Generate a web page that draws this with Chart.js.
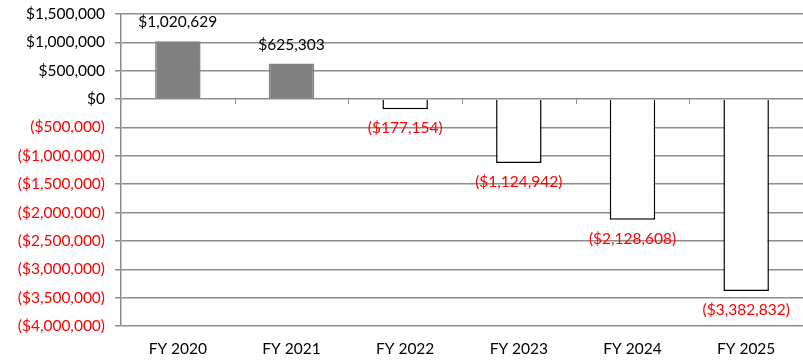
<!DOCTYPE html>
<html>
<head>
<meta charset="utf-8">
<script src="https://cdn.jsdelivr.net/npm/chart.js@4"></script>
<style>
  html, body { margin: 0; padding: 0; background: #fff; }
  #wrap { width: 803px; height: 360px; }
</style>
</head>
<body>
<div id="wrap"><canvas id="chart"></canvas></div>
<script>
// chart data
const years = ["FY 2020", "FY 2021", "FY 2022", "FY 2023", "FY 2024", "FY 2025"];
const balances = [1020629, 625303, -177154, -1124942, -2128608, -3382832];
const yMin = -4000000;
const yMax = 1500000;
const yStep = 500000;

const GRID = "#8c8c8c";
const FONT = "Lato, 'Open Sans', sans-serif";
const FSIZE = 15.5;

function money(v) {
  const s = "$" + Math.abs(v).toLocaleString("en-US");
  return v < 0 ? "(" + s + ")" : s;
}

// value labels above / below the bars, plus the small ticks on the zero line
const barLabels = {
  id: "barLabels",
  afterDatasetsDraw(chart) {
    const ctx = chart.ctx;
    const meta = chart.getDatasetMeta(0);
    const x = chart.scales.x;
    const y = chart.scales.y;
    const zero = y.getPixelForValue(0);
    ctx.save();
    ctx.strokeStyle = GRID;
    ctx.lineWidth = 1;
    for (let i = 1; i < years.length; i++) {
      const px = Math.round(x.left + (x.width / years.length) * i) + 0.5;
      ctx.beginPath();
      ctx.moveTo(px, zero);
      ctx.lineTo(px, zero + 5);
      ctx.stroke();
    }
    ctx.font = FSIZE + "px " + FONT;
    ctx.textAlign = "center";
    ctx.textBaseline = "middle";
    meta.data.forEach((bar, i) => {
      const v = balances[i];
      ctx.fillStyle = v < 0 ? "#ff0000" : "#000000";
      const ty = v < 0 ? bar.y + 19 : bar.y - 19;
      ctx.fillText(money(v), bar.x, ty);
    });
    ctx.restore();
  }
};

new Chart(document.getElementById("chart"), {
  type: "bar",
  data: {
    labels: years,
    datasets: [{
      data: balances,
      backgroundColor: balances.map(v => v < 0 ? "#ffffff" : "#808080"),
      borderColor: balances.map(v => v < 0 ? "#000000" : "#808080"),
      borderWidth: 1.5,
      categoryPercentage: 1,
      barPercentage: 0.4
    }]
  },
  options: {
    responsive: true,
    maintainAspectRatio: false,
    animation: false,
    layout: { padding: { top: 14, right: 0, bottom: 0, left: 0 } },
    plugins: {
      legend: { display: false },
      tooltip: { enabled: false }
    },
    scales: {
      x: {
        grid: { display: false },
        border: { display: false },
        ticks: { color: "#000", font: { family: FONT, size: FSIZE }, padding: 6 },
        afterFit(scale) { scale.height = 34; }
      },
      y: {
        min: yMin,
        max: yMax,
        grid: { color: GRID, lineWidth: 1.5, tickLength: 6 },
        border: { display: true, color: GRID, width: 1.5 },
        ticks: {
          stepSize: yStep,
          padding: 10,
          font: { family: FONT, size: FSIZE },
          color: ctx => ctx.tick && ctx.tick.value < 0 ? "#ff0000" : "#000000",
          callback: v => money(v)
        },
        afterFit(scale) {
          scale.width = 121;
          scale.paddingTop = 0;
          scale.paddingBottom = 0;
        }
      }
    }
  },
  plugins: [barLabels]
});
</script>
</body>
</html>
